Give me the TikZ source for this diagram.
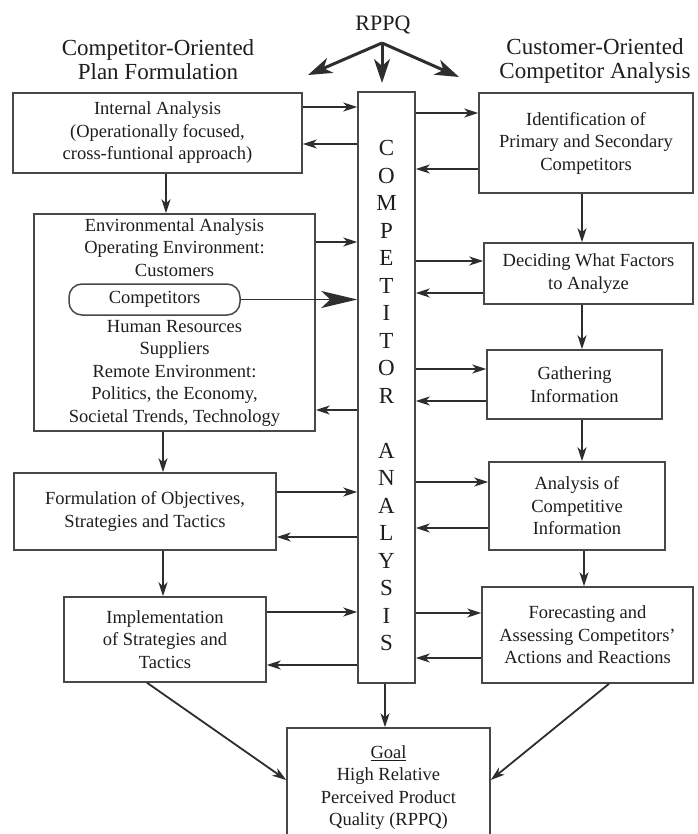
\documentclass[tikz,border=0pt]{standalone}
\usepackage{fontspec}
\setmainfont{Liberation Serif}
\usetikzlibrary{arrows.meta,calc}
\definecolor{lc}{HTML}{2E2E2E}
\definecolor{bc}{HTML}{484848}
\definecolor{tc}{HTML}{1E1E1E}
\newcommand\myBody{\fontsize{18.5}{22.5}\selectfont}
\newcommand\myHead{\fontsize{23}{24}\selectfont}
\begin{document}
\begin{tikzpicture}[x=1pt,y=-1pt,
  box/.style={draw=bc, line width=1.5pt, inner sep=0pt, align=center, font=\myBody, text=tc},
  arr/.style={draw=lc, line width=1.8pt, -{Stealth[length=14pt,width=9pt,inset=4pt]}},
  bigarr/.style={draw=lc, line width=3pt, -{Stealth[length=24pt,width=16pt,inset=7pt]}},
  ]
\useasboundingbox (0,0) rectangle (697,834);
\clip (0,0) rectangle (697,834);
\fill[white] (0,0) rectangle (697,834);

% headers
\node[font=\myHead, text=tc, align=center] (lhead) at (158,60) {Competitor-Oriented\\Plan Formulation};
\node[font=\myHead, text=tc, align=center] (rhead) at (595,61) {Customer-Oriented\\Competitor Analysis};
\node[font=\fontsize{22}{24}\selectfont, text=tc] (rppq) at (383,25) {RPPQ};

% left column
\node[box, minimum width=289, minimum height=80] (internal) at (157.5,133)
  {Internal Analysis\\(Operationally focused,\\cross-funtional approach)};
\node[box, minimum width=281, minimum height=217] (env) at (174.5,322.5)
  {Environmental Analysis\\Operating Environment:\\Customers\\[5pt]\mbox{}\\[6pt]Human Resources\\Suppliers\\Remote Environment:\\Politics, the Economy,\\Societal Trends, Technology};
\node[box, rounded corners=13pt, minimum width=171, minimum height=31] (comp) at (154.5,299.5) {Competitors};
\node[box, minimum width=262, minimum height=77] (form) at (145,511.5)
  {Formulation of Objectives,\\Strategies and Tactics};
\node[box, minimum width=202, minimum height=85] (impl) at (165,639.5)
  {Implementation\\of Strategies and\\Tactics};

% central bar
\node[box, minimum width=57, minimum height=591] (bar) at (386.5,387.5) {};
\node[font=\fontsize{23}{27.5}\selectfont, text=tc, align=center, inner sep=0pt] (bartext) at (386.5,395.5)
  {C\\O\\M\\P\\E\\T\\I\\T\\O\\R\\[27.5pt]A\\N\\A\\L\\Y\\S\\I\\S};

% right column
\node[box, minimum width=214, minimum height=100] (ident) at (586,143)
  {Identification of\\Primary and Secondary\\Competitors};
\node[box, minimum width=209, minimum height=61] (decide) at (588.5,273.5)
  {Deciding What Factors\\to Analyze};
\node[box, minimum width=175, minimum height=69] (gather) at (574.5,384.5)
  {Gathering\\Information};
\node[box, minimum width=176, minimum height=88] (anal) at (577,506)
  {Analysis of\\Competitive\\Information};
\node[box, minimum width=211, minimum height=96] (fore) at (587.5,635)
  {Forecasting and\\Assessing Competitors'\\Actions and Reactions};

% goal
\node[box, minimum width=203, minimum height=119] (goal) at (388.5,787.5)
  {\underline{Goal}\\High Relative\\Perceived Product\\Quality (RPPQ)};

% RPPQ arrows
\coordinate (apex) at (382,43);
\coordinate (tl) at (308,75);
\coordinate (td) at (382,83);
\coordinate (tr) at (459,77);
\draw[bigarr, line join=round] (apex) -- (tl);
\draw[bigarr, line join=round] (apex) -- (tr);
\draw[bigarr] (apex) -- (td);

% horizontal connectors
\draw[arr] (internal.east |- 0,107) -- (bar.west |- 0,107);
\draw[arr] (bar.west |- 0,144) -- (internal.east |- 0,144);
\draw[arr] (bar.east |- 0,113) -- (ident.west |- 0,113);
\draw[arr] (ident.west |- 0,169) -- (bar.east |- 0,169);
\draw[arr] (env.east |- 0,242) -- (bar.west |- 0,242);
\draw[draw=lc, line width=1.8pt, -{Stealth[length=36pt,width=17pt,inset=9pt]}] (comp.east) -- (bar.west |- comp.east);
\draw[arr] (bar.west |- 0,410) -- (env.east |- 0,410);
\draw[arr] (bar.east |- 0,261) -- (decide.west |- 0,261);
\draw[arr] (decide.west |- 0,293) -- (bar.east |- 0,293);
\draw[arr] (bar.east |- 0,369) -- (gather.west |- 0,369);
\draw[arr] (gather.west |- 0,401) -- (bar.east |- 0,401);
\draw[arr] (form.east |- 0,492) -- (bar.west |- 0,492);
\draw[arr] (bar.west |- 0,537) -- (form.east |- 0,537);
\draw[arr] (bar.east |- 0,482) -- (anal.west |- 0,482);
\draw[arr] (anal.west |- 0,528) -- (bar.east |- 0,528);
\draw[arr] (impl.east |- 0,612) -- (bar.west |- 0,612);
\draw[arr] (bar.west |- 0,665) -- (impl.east |- 0,665);
\draw[arr] (bar.east |- 0,613) -- (fore.west |- 0,613);
\draw[arr] (fore.west |- 0,658) -- (bar.east |- 0,658);

% vertical connectors
\draw[arr] (internal.south -| 166,0) -- (env.north -| 166,0);
\draw[arr] (env.south -| 163,0) -- (form.north -| 163,0);
\draw[arr] (form.south -| 163,0) -- (impl.north -| 163,0);
\draw[arr] (ident.south -| 582,0) -- (decide.north -| 582,0);
\draw[arr] (decide.south -| 582,0) -- (gather.north -| 582,0);
\draw[arr] (gather.south -| 582,0) -- (anal.north -| 582,0);
\draw[arr] (anal.south -| 584,0) -- (fore.north -| 584,0);
\draw[arr] (bar.south -| 385,0) -- (goal.north -| 385,0);

% diagonals
\draw[arr] (impl.south -| 147,0) -- (goal.west |- 0,780);
\draw[arr] (fore.south -| 609,0) -- (goal.east |- 0,780);
\end{tikzpicture}
\end{document}
